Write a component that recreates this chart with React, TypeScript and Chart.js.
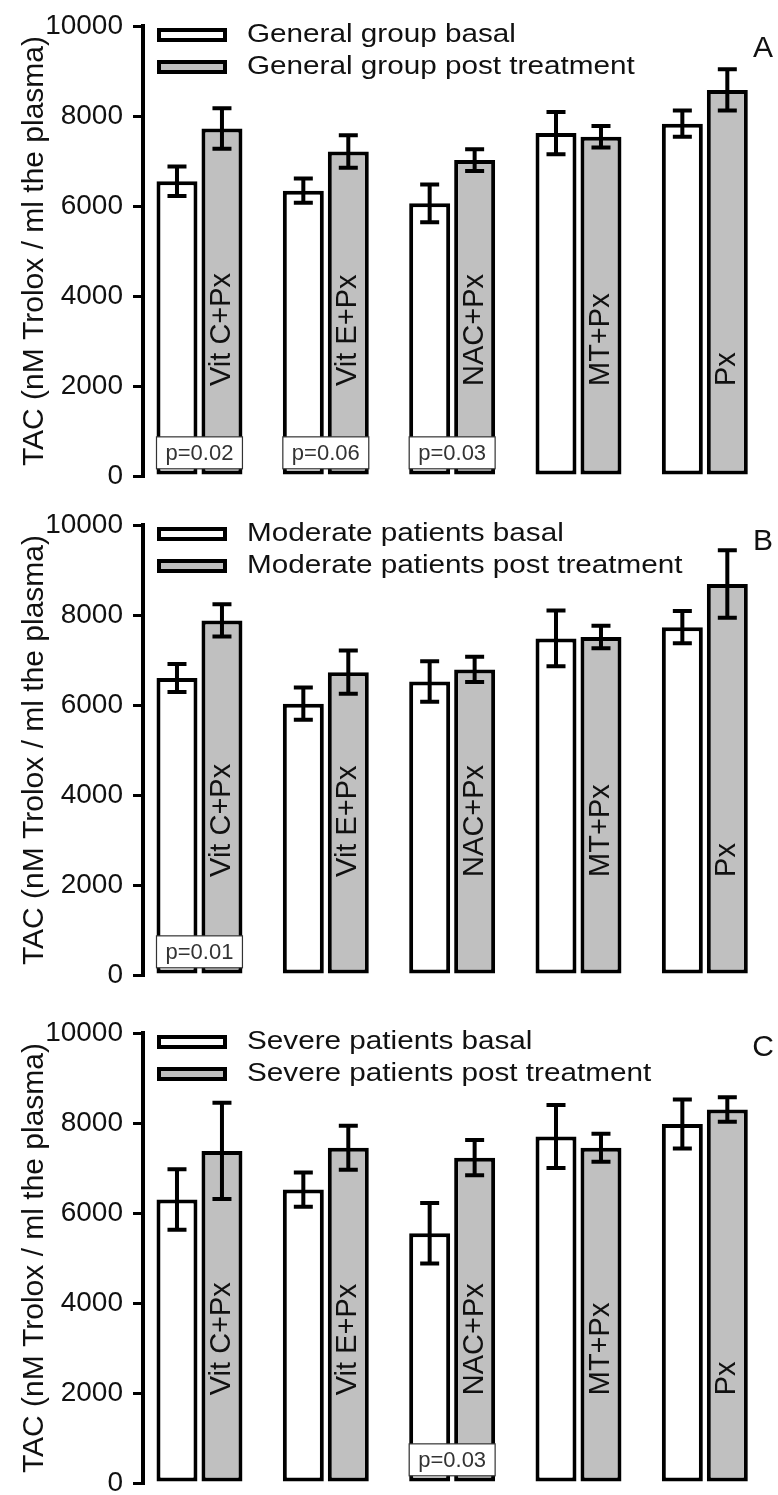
import React, { useEffect, useRef } from 'react';
import { Chart, registerables } from 'chart.js';

Chart.register(...registerables);

const FONT = "'Liberation Sans', Arial, Helvetica, sans-serif";

// ---------- data ----------
const categories = ['Vit C+Px', 'Vit E+Px', 'NAC+Px', 'MT+Px', 'Px'];
const yTicks = [0, 2000, 4000, 6000, 8000, 10000];

const generalBasal = [6550, 6340, 6060, 7620, 7830];
const generalBasalErr = [330, 270, 420, 470, 290];
const generalPost = [7720, 7210, 7020, 7540, 8580];
const generalPostErr = [450, 360, 240, 240, 460];
const generalP = ['p=0.02', 'p=0.06', 'p=0.03', '', ''];

const moderateBasal = [6600, 6030, 6520, 7480, 7730];
const moderateBasalErr = [310, 360, 450, 620, 360];
const moderatePost = [7880, 6730, 6790, 7510, 8690];
const moderatePostErr = [360, 480, 280, 250, 750];
const moderateP = ['p=0.01', '', '', '', ''];

const severeBasal = [6300, 6520, 5550, 7700, 7980];
const severeBasalErr = [670, 380, 670, 700, 545];
const severePost = [7380, 7450, 7230, 7450, 8300];
const severePostErr = [1070, 490, 390, 310, 270];
const severeP = ['', '', 'p=0.03', '', ''];

// ---------- panel setup (layout/style only) ----------
const GRAY = '#c0c0c0';
const PAD = 40; // room above / below each plot area inside its canvas

const panels = [
  {
    letter: 'A', basalLabel: 'General group basal', postLabel: 'General group post treatment',
    basal: generalBasal, basalErr: generalBasalErr, post: generalPost, postErr: generalPostErr, pLabels: generalP,
    areaTop: 26, areaBottom: 476, labelStart: 2000, letterDy: 23,
  },
  {
    letter: 'B', basalLabel: 'Moderate patients basal', postLabel: 'Moderate patients post treatment',
    basal: moderateBasal, basalErr: moderateBasalErr, post: moderatePost, postErr: moderatePostErr, pLabels: moderateP,
    areaTop: 525, areaBottom: 975, labelStart: 2180, letterDy: 17,
  },
  {
    letter: 'C', basalLabel: 'Severe patients basal', postLabel: 'Severe patients post treatment',
    basal: severeBasal, basalErr: severeBasalErr, post: severePost, postErr: severePostErr, pLabels: severeP,
    areaTop: 1033, areaBottom: 1483, labelStart: 1950, letterDy: 15,
  },
];

const decorPlugin = {
  id: 'panelDecor',
  afterDatasetsDraw(chart: any, _args: any, opts: any) {
    const { ctx, chartArea, scales } = chart;
    const y = scales.y;
    const metas = [chart.getDatasetMeta(0), chart.getDatasetMeta(1)];

    // error bars
    ctx.save();
    ctx.strokeStyle = '#000';
    ctx.lineWidth = 4;
    ctx.lineCap = 'butt';
    metas.forEach((meta: any, d: number) => {
      const ds = chart.data.datasets[d];
      meta.data.forEach((el: any, i: number) => {
        const v = ds.data[i].y;
        const e = ds.errors[i];
        const yt = y.getPixelForValue(v + e);
        const yb = y.getPixelForValue(v - e);
        const cap = 9.5;
        ctx.beginPath();
        ctx.moveTo(el.x, yt);
        ctx.lineTo(el.x, yb);
        ctx.moveTo(el.x - cap, yt);
        ctx.lineTo(el.x + cap, yt);
        ctx.moveTo(el.x - cap, yb);
        ctx.lineTo(el.x + cap, yb);
        ctx.stroke();
      });
    });
    ctx.restore();

    // rotated category labels inside the post-treatment bars
    const labels = chart.data.labels;
    metas[1].data.forEach((el: any, i: number) => {
      ctx.save();
      ctx.translate(el.x, y.getPixelForValue(opts.labelStart));
      ctx.rotate(-Math.PI / 2);
      ctx.font = `29px ${FONT}`;
      ctx.fillStyle = '#111';
      ctx.textAlign = 'left';
      ctx.textBaseline = 'middle';
      ctx.fillText(labels[i], 0, 0);
      ctx.restore();
    });

    // p-value boxes
    opts.pLabels.forEach((txt: string, i: number) => {
      if (!txt) return;
      const a = metas[0].data[i];
      const b = metas[1].data[i];
      const x1 = a.x - a.width / 2;
      const x2 = b.x + b.width / 2;
      const yTop = y.getPixelForValue(870);
      const yBot = y.getPixelForValue(160);
      ctx.save();
      ctx.fillStyle = '#fff';
      ctx.fillRect(x1, yTop, x2 - x1, yBot - yTop);
      ctx.strokeStyle = '#333';
      ctx.lineWidth = 1.2;
      ctx.strokeRect(x1, yTop, x2 - x1, yBot - yTop);
      ctx.font = `22px ${FONT}`;
      ctx.fillStyle = '#333';
      ctx.textAlign = 'center';
      ctx.textBaseline = 'middle';
      ctx.fillText(txt, (x1 + x2) / 2, (yTop + yBot) / 2 + 1);
      ctx.restore();
    });

    // legend (inside plot area, top-left)
    const offsets = [9, 41];
    chart.data.datasets.forEach((ds: any, k: number) => {
      const cy = chartArea.top + offsets[k];
      ctx.save();
      ctx.fillStyle = ds.backgroundColor;
      ctx.strokeStyle = '#000';
      ctx.lineWidth = 4;
      ctx.beginPath();
      ctx.rect(chartArea.left + 16, cy - 5, 66, 10);
      ctx.fill();
      ctx.stroke();
      ctx.translate(chartArea.left + 104, cy);
      ctx.scale(1.12, 1);
      ctx.font = `26.5px ${FONT}`;
      ctx.fillStyle = '#111';
      ctx.textAlign = 'left';
      ctx.textBaseline = 'middle';
      ctx.fillText(ds.label, 0, 0);
      ctx.restore();
    });

    // panel letter
    ctx.save();
    ctx.font = `30px ${FONT}`;
    ctx.fillStyle = '#111';
    ctx.textAlign = 'center';
    ctx.textBaseline = 'middle';
    ctx.fillText(opts.letter, chartArea.right - 5, chartArea.top + opts.letterDy);
    ctx.restore();
  },
};

function makeConfig(p: any): any {
  return {
    type: 'bar',
    data: {
      labels: categories,
      datasets: [
        {
          label: p.basalLabel,
          data: p.basal.map((v: number, i: number) => ({ x: i, y: v })),
          errors: p.basalErr,
          backgroundColor: '#ffffff',
          borderColor: '#000000',
          borderWidth: 4,
          borderSkipped: false,
          categoryPercentage: 0.712,
          barPercentage: 0.911,
        },
        {
          label: p.postLabel,
          data: p.post.map((v: number, i: number) => ({ x: i, y: v })),
          errors: p.postErr,
          backgroundColor: GRAY,
          borderColor: '#000000',
          borderWidth: 4,
          borderSkipped: false,
          categoryPercentage: 0.712,
          barPercentage: 0.911,
        },
      ],
    },
    options: {
      responsive: false,
      animation: false,
      devicePixelRatio: 1,
      layout: { padding: { left: 0, right: 10, top: PAD, bottom: PAD } },
      plugins: {
        legend: { display: false },
        tooltip: { enabled: false },
        panelDecor: { pLabels: p.pLabels, letter: p.letter, labelStart: p.labelStart, letterDy: p.letterDy },
      },
      scales: {
        x: {
          type: 'linear',
          display: false,
          offset: false,
          min: -0.447,
          max: 4.5,
          afterBuildTicks: (s: any) => {
            s.ticks = categories.map((_, i) => ({ value: i }));
          },
        },
        y: {
          type: 'linear',
          min: 0,
          max: 10000,
          afterBuildTicks: (s: any) => {
            s.ticks = yTicks.map((v) => ({ value: v }));
          },
          afterFit: (s: any) => {
            s.width = 143;
          },
          ticks: {
            font: { size: 28, family: FONT },
            color: '#111',
            padding: 10,
            callback: (v: any) => String(v),
          },
          grid: {
            drawOnChartArea: false,
            drawTicks: true,
            tickLength: 10,
            tickWidth: 3,
            tickColor: '#000',
            color: '#000',
            lineWidth: 3,
          },
          border: { display: true, color: '#000', width: 4 },
          title: {
            display: true,
            text: 'TAC (nM Trolox / ml the plasma)',
            font: { size: 30, family: FONT },
            color: '#111',
            padding: { top: 17, bottom: 0 },
          },
        },
      },
    },
    plugins: [decorPlugin],
  };
}

function Panel({ p }: { p: any }) {
  const ref = useRef<HTMLCanvasElement>(null);
  const height = p.areaBottom - p.areaTop + 2 * PAD;
  const top = p.areaTop - PAD;
  useEffect(() => {
    if (!ref.current) return;
    const chart = new Chart(ref.current, makeConfig(p));
    return () => chart.destroy();
  }, [p]);
  return (
    <canvas
      ref={ref}
      width={778}
      height={height}
      style={{ position: 'absolute', left: 0, top, width: 778, height, display: 'block' }}
    />
  );
}

export default function App() {
  return (
    <div
      style={{
        position: 'absolute',
        left: 0,
        top: 0,
        width: 778,
        height: 1495,
        overflow: 'hidden',
        background: '#fff',
      }}
    >
      {panels.map((p) => (
        <Panel key={p.letter} p={p} />
      ))}
    </div>
  );
}
